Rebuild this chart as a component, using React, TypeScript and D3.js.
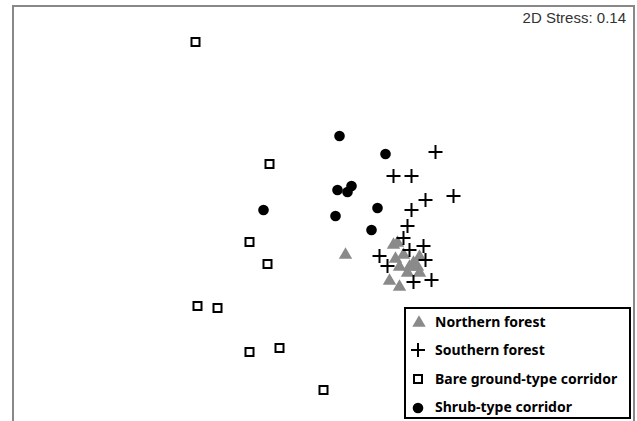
import React from "react";
import * as d3 from "d3";

const W = 637;
const H = 421;

// NMDS coordinates
const northern: [number, number][] = [
  [0.11, -0.2], [0.35, -0.15], [0.37, -0.14], [0.4, -0.2], [0.36, -0.22],
  [0.45, -0.24], [0.48, -0.21], [0.47, -0.26], [0.38, -0.26], [0.42, -0.29],
  [0.48, -0.29], [0.33, -0.33], [0.38, -0.36], [0.43, -0.26],
];
const southern: [number, number][] = [
  [0.56, 0.31], [0.35, 0.19], [0.44, 0.19], [0.65, 0.09], [0.51, 0.07],
  [0.44, 0.02], [0.42, -0.06], [0.4, -0.12], [0.28, -0.21], [0.43, -0.18],
  [0.5, -0.16], [0.51, -0.23], [0.32, -0.26], [0.45, -0.34], [0.54, -0.33],
];
const bare: [number, number][] = [
  [-0.64, 0.86], [-0.27, 0.25], [-0.37, -0.14], [-0.28, -0.25], [-0.63, -0.46],
  [-0.53, -0.47], [-0.37, -0.69], [-0.22, -0.67], [0.0, -0.88],
];
const shrub: [number, number][] = [
  [0.08, 0.39], [0.31, 0.3], [0.07, 0.12], [0.12, 0.11], [0.14, 0.14],
  [-0.3, 0.02], [0.06, -0.01], [0.27, 0.03], [0.24, -0.08],
];
const legendLabels = [
  "Northern forest",
  "Southern forest",
  "Bare ground-type corridor",
  "Shrub-type corridor",
];
const stressLabel = "2D Stress: 0.14";

const x = d3.scaleLinear().domain([-1.5525, 1.5525]).range([13, 634]);
const y = d3.scaleLinear().domain([1.04, -1.035]).range([6, 421]);

const triPath = d3.symbol().type(d3.symbolTriangle).size(78)() as string;

function Tri({ cx, cy }: { cx: number; cy: number }) {
  return <path d={triPath} transform={`translate(${cx},${cy + 1})`} fill="#8a8a8a" />;
}
function Plus({ cx, cy }: { cx: number; cy: number }) {
  const s = 7;
  return (
    <g stroke="#000" strokeWidth={2}>
      <line x1={cx - s} x2={cx + s} y1={cy} y2={cy} />
      <line x1={cx} x2={cx} y1={cy - s} y2={cy + s} />
    </g>
  );
}
function Sq({ cx, cy }: { cx: number; cy: number }) {
  return (
    <rect x={cx - 4} y={cy - 4} width={8} height={8} fill="#fff" stroke="#000" strokeWidth={2} />
  );
}
function Dot({ cx, cy }: { cx: number; cy: number }) {
  return <circle cx={cx} cy={cy} r={5.3} fill="#000" />;
}

export default function App() {
  const lx = 418;
  const ly = [322, 350, 379, 407];
  return (
    <svg
      width={W}
      height={H}
      style={{ position: "absolute", left: 0, top: 0, background: "#fff" }}
    >
      <rect x={0} y={0} width={W} height={H} fill="#fff" />
      <rect x={13} y={6} width={621} height={440} fill="none" stroke="#888" strokeWidth={2} />
      <text
        x={626}
        y={23}
        textAnchor="end"
        fontFamily="Liberation Sans, Arial, sans-serif"
        fontSize={15}
        fill="#333"
      >
        {stressLabel}
      </text>
      {bare.map((d, i) => (
        <Sq key={"b" + i} cx={x(d[0])} cy={y(d[1])} />
      ))}
      {shrub.map((d, i) => (
        <Dot key={"s" + i} cx={x(d[0])} cy={y(d[1])} />
      ))}
      {northern.map((d, i) => (
        <Tri key={"n" + i} cx={x(d[0])} cy={y(d[1])} />
      ))}
      {southern.map((d, i) => (
        <Plus key={"p" + i} cx={x(d[0])} cy={y(d[1])} />
      ))}
      <rect x={405} y={308} width={225} height={110} fill="#fff" stroke="#000" strokeWidth={2} />
      <Tri cx={lx + 1} cy={ly[0]} />
      <Plus cx={lx} cy={ly[1]} />
      <Sq cx={lx} cy={ly[2]} />
      <Dot cx={lx} cy={ly[3] + 1} />
      {legendLabels.map((t, i) => (
        <text
          key={t}
          x={435}
          y={ly[i] + 5}
          fontFamily="Noto Sans, sans-serif"
          fontWeight="bold"
          fontSize={14}
          fill="#000"
        >
          {t}
        </text>
      ))}
    </svg>
  );
}
